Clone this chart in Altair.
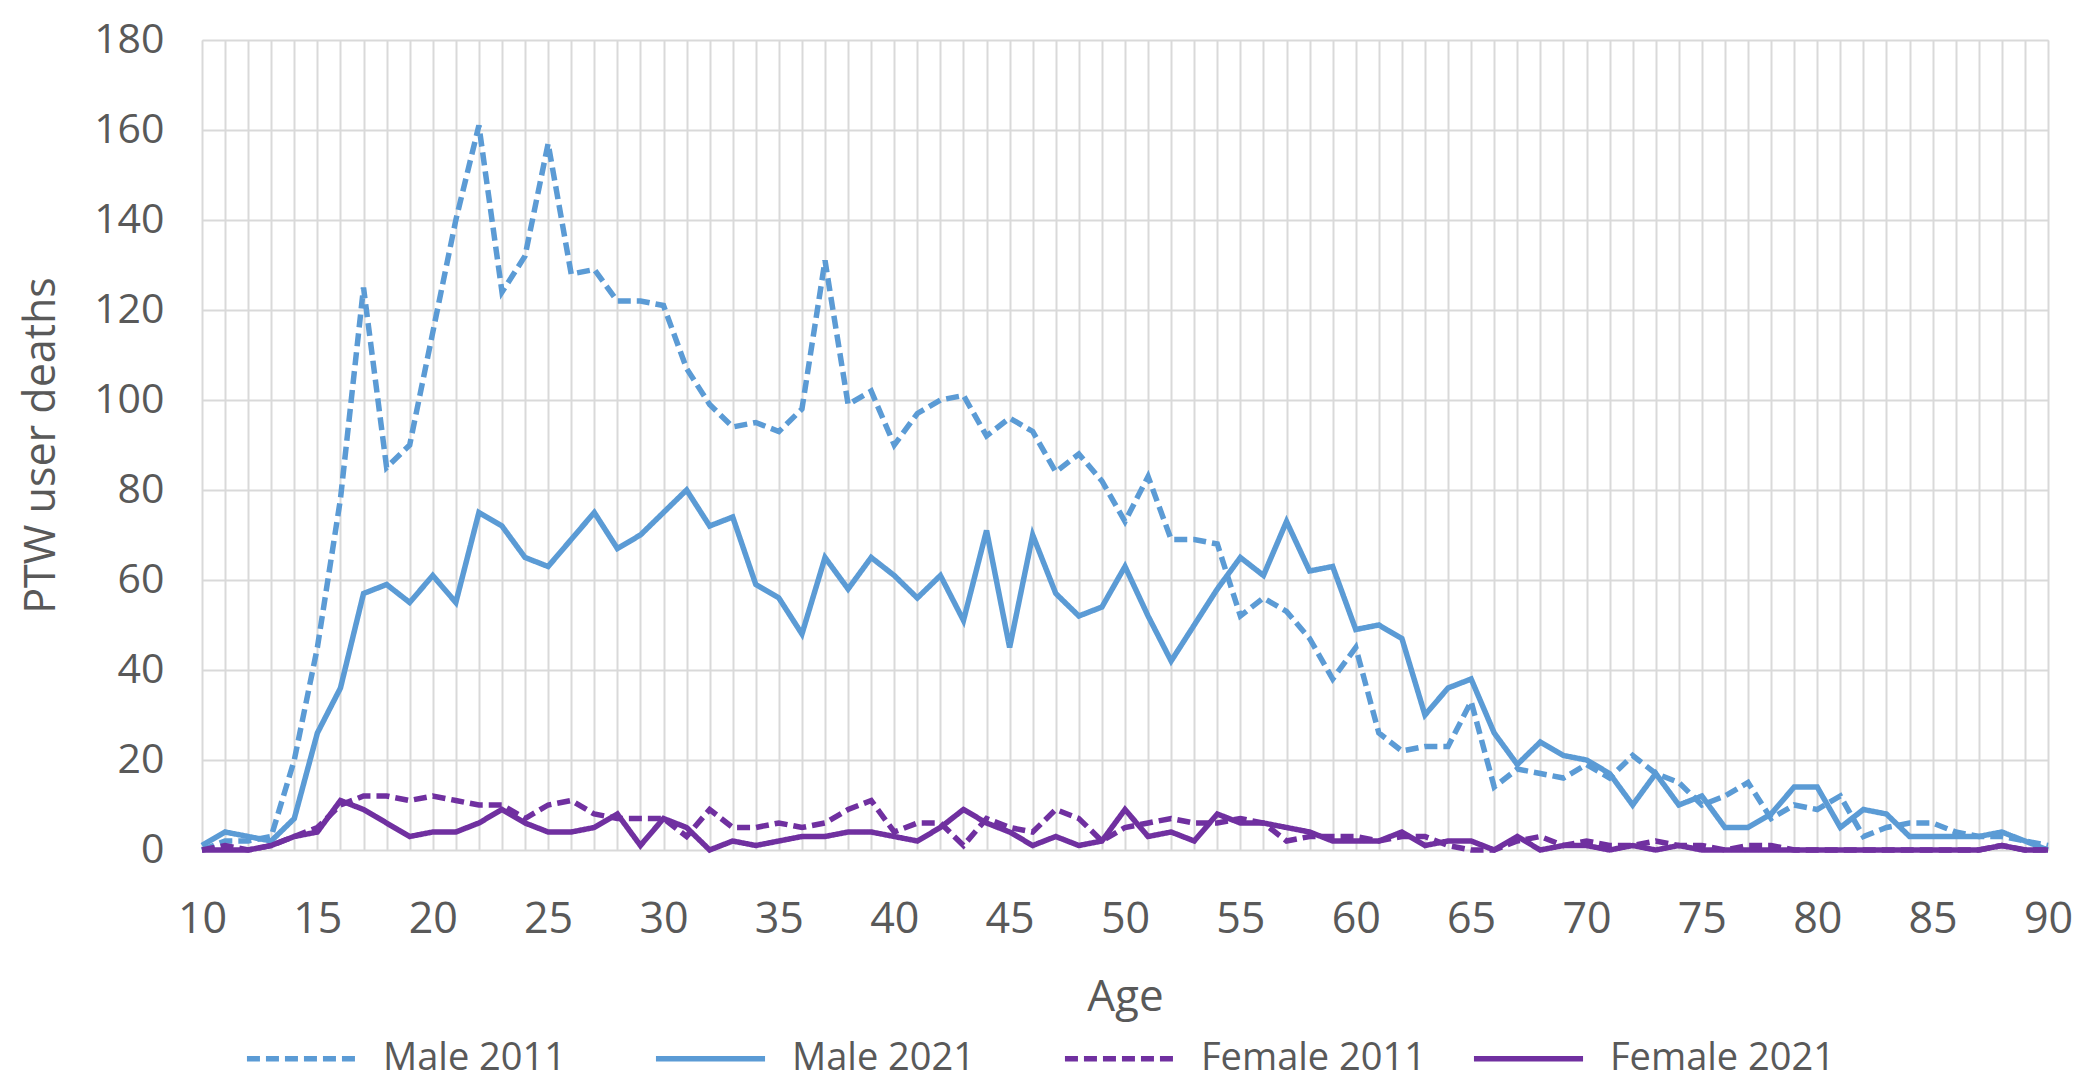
import altair as alt
import pandas as pd

ages = list(range(10, 91))

male_2011 = [0, 2, 2, 3, 20, 45, 78, 125, 85, 90,
             115, 140, 161, 124, 132, 157, 128, 129, 122, 122,
             121, 107, 99, 94, 95, 93, 98, 131, 99, 102,
             90, 97, 100, 101, 92, 96, 93, 84, 88, 82,
             73, 83, 69, 69, 68, 52, 56, 53, 47, 38,
             45, 26, 22, 23, 23, 33, 14, 18, 17, 16,
             19, 16, 21, 17, 15, 10, 12, 15, 7, 10,
             9, 12, 3, 5, 6, 6, 4, 3, 3, 2, 1]

male_2021 = [1, 4, 3, 2, 7, 26, 36, 57, 59, 55,
             61, 55, 75, 72, 65, 63, 69, 75, 67, 70,
             75, 80, 72, 74, 59, 56, 48, 65, 58, 65,
             61, 56, 61, 51, 71, 45, 70, 57, 52, 54,
             63, 52, 42, 50, 58, 65, 61, 73, 62, 63,
             49, 50, 47, 30, 36, 38, 26, 19, 24, 21,
             20, 17, 10, 17, 10, 12, 5, 5, 8, 14,
             14, 5, 9, 8, 3, 3, 3, 3, 4, 2, 0]

female_2011 = [0, 1, 0, 1, 3, 5, 10, 12, 12, 11,
               12, 11, 10, 10, 7, 10, 11, 8, 7, 7,
               7, 3, 9, 5, 5, 6, 5, 6, 9, 11,
               4, 6, 6, 1, 7, 5, 4, 9, 7, 2,
               5, 6, 7, 6, 6, 7, 6, 2, 3, 3,
               3, 2, 3, 3, 1, 0, 0, 2, 3, 1,
               2, 1, 1, 2, 1, 1, 0, 1, 1, 0,
               0, 0, 0, 0, 0, 0, 0, 0, 1, 0, 0]

female_2021 = [0, 0, 0, 1, 3, 4, 11, 9, 6, 3,
               4, 4, 6, 9, 6, 4, 4, 5, 8, 1,
               7, 5, 0, 2, 1, 2, 3, 3, 4, 4,
               3, 2, 5, 9, 6, 4, 1, 3, 1, 2,
               9, 3, 4, 2, 8, 6, 6, 5, 4, 2,
               2, 2, 4, 1, 2, 2, 0, 3, 0, 1,
               1, 0, 1, 0, 1, 0, 0, 0, 0, 0,
               0, 0, 0, 0, 0, 0, 0, 0, 1, 0, 0]

series_names = ["Male 2011", "Male 2021", "Female 2011", "Female 2021"]
series_values = [male_2011, male_2021, female_2011, female_2021]
series_colors = ["#5b9bd5", "#5b9bd5", "#7030a0", "#7030a0"]
series_dashes = [[13, 6], [1, 0], [13, 6], [1, 0]]
y_ticks = list(range(0, 181, 20))

rows = []
for name, vals in zip(series_names, series_values):
    for a, v in zip(ages, vals):
        rows.append({"Age": a, "value": v, "series": name})
df = pd.DataFrame(rows)

FONT = "Open Sans"
GREY = "#595959"

legend_cfg = dict(
    title=None,
    orient="none",
    direction="horizontal",
    columns=4,
    gridAlign="all",
    columnPadding=36,
    legendX=42,
    legendY=961,
    symbolType="stroke",
    symbolSize=11900,
    symbolStrokeWidth=5.5,
    labelFont=FONT,
    labelFontSize=38,
    labelColor=GREY,
    labelOffset=24,
    labelLimit=400,
)

chart = alt.Chart(df).mark_line(strokeWidth=5.5).encode(
    x=alt.X("Age:Q",
            scale=alt.Scale(domain=[10, 90], nice=False),
            axis=alt.Axis(values=ages,
                          labelExpr="datum.value % 5 == 0 ? datum.label : ''",
                          labelFlush=False, labelOverlap=False,
                          ticks=False, domain=False,
                          grid=True, gridColor="#d9d9d9", gridWidth=2,
                          labelFont=FONT, labelFontSize=43, labelColor=GREY,
                          labelPadding=48,
                          title="Age", titleFont=FONT, titleFontSize=44,
                          titleFontWeight="normal", titleColor=GREY,
                          titlePadding=34)),
    y=alt.Y("value:Q",
            scale=alt.Scale(domain=[0, 180], nice=False),
            axis=alt.Axis(values=y_ticks, ticks=False, domain=False,
                          grid=True, gridColor="#d9d9d9", gridWidth=2,
                          labelFont=FONT, labelFontSize=41, labelColor=GREY,
                          labelPadding=38,
                          title="PTW user deaths", titleFont=FONT, titleFontSize=43,
                          titleFontWeight="normal", titleColor=GREY,
                          titlePadding=30)),
    color=alt.Color("series:N",
                    scale=alt.Scale(domain=series_names, range=series_colors),
                    sort=series_names,
                    legend=alt.Legend(**legend_cfg)),
    strokeDash=alt.StrokeDash("series:N",
                              scale=alt.Scale(domain=series_names, range=series_dashes),
                              sort=series_names,
                              legend=alt.Legend(**legend_cfg)),
    order=alt.Order("Age:Q"),
).properties(
    width=1846,
    height=810,
    autosize=alt.AutoSizeParams(type="none"),
    padding={"left": 194, "top": 32, "right": 26, "bottom": 230},
).configure_view(stroke=None).configure(background="white")

chart.save("out.html", embed_options={"renderer": "svg", "actions": False})
